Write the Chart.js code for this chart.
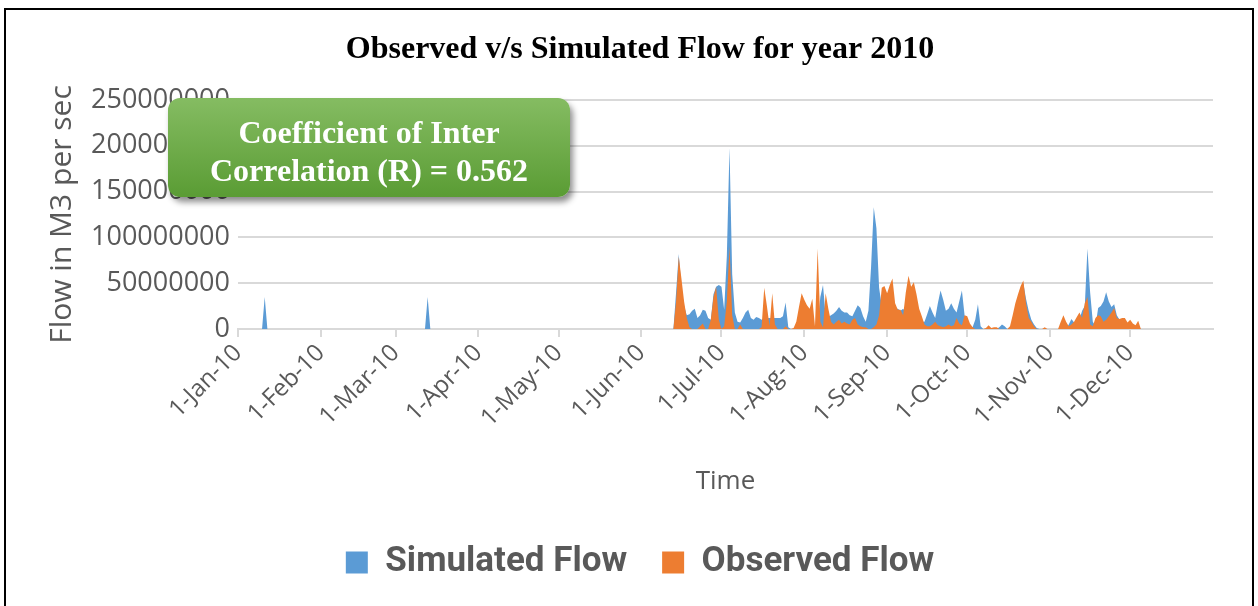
<!DOCTYPE html>
<html>
<head>
<meta charset="utf-8">
<script src="https://cdn.jsdelivr.net/npm/chart.js@4.4.1/dist/chart.umd.min.js"></script>
<style>
  html, body { margin: 0; padding: 0; background: #fff; }
  #wrap { position: relative; width: 1258px; height: 606px; overflow: hidden; }
  #chartBox { position: absolute; left: 0; top: 0; width: 1258px; height: 606px; }
  #frame { position: absolute; left: 4px; top: 8px; width: 1246px; height: 640px; border: 2px solid #000; pointer-events: none; }
  #note {
    position: absolute; left: 168px; top: 98px; width: 402px; height: 99px; box-sizing: border-box;
    border-radius: 12px; padding-top: 15px;
    background: linear-gradient(#85bc62, #5a9c34);
    box-shadow: 3px 5px 6px rgba(0, 0, 0, 0.45);
    color: #fff; font: bold 32px 'Liberation Serif', 'Times New Roman', serif;
    line-height: 38px; text-align: center;
  }
</style>
</head>
<body>
<div id="wrap">
  <div id="chartBox"><canvas id="flowChart"></canvas></div>
  <div id="note">Coefficient of Inter<br>Correlation (R) = 0.562</div>
  <div id="frame"></div>
</div>
<script>
// month tick labels shown on the x axis
const tickLabels = ['1-Jan-10', '1-Feb-10', '1-Mar-10', '1-Apr-10', '1-May-10', '1-Jun-10',
                    '1-Jul-10', '1-Aug-10', '1-Sep-10', '1-Oct-10', '1-Nov-10', '1-Dec-10'];
const monthNames = ['Jan', 'Feb', 'Mar', 'Apr', 'May', 'Jun', 'Jul', 'Aug', 'Sep', 'Oct', 'Nov', 'Dec'];

// daily flow, in millions of M3 per sec (one line per month)
const simulatedFlow = [
  0,0,0,0,0,0,0,0,0,0,35,0,0,0,0,0,0,0,0,0,0,0,0,0,0,0,0,0,0,0,0,
  0,0,0,0,0,0,0,0,0,0,0,0,0,0,0,0,0,0,0,0,0,0,0,0,0,0,0,0,
  0,0,0,0,0,0,0,0,0,0,0,0,35,0,0,0,0,0,0,0,0,0,0,0,0,0,0,0,0,0,0,
  0,0,0,0,0,0,0,0,0,0,0,0,0,0,0,0,0,0,0,0,0,0,0,0,0,0,0,0,0,0,
  0,0,0,0,0,0,0,0,0,0,0,0,0,0,0,0,0,0,0,0,0,0,0,0,0,0,0,0,0,0,0,
  0,0,0,0,0,0,0,0,0,0,0,0,0,40,82,45,25,15,16,20,22,12,15,21,20,12,10,38,46,48,
  46,21,80,198,60,18,8,7,12,18,21,12,10,13,12,10,12,12,12,12,12,12,12,14,29,2,0,0,2,3,3,
  3,3,2,3,2,3,35,48,14,13,15,17,20,24,20,18,18,15,14,20,26,23,14,8,20,68,133,110,45,25,22,
  20,20,20,22,22,20,22,18,15,15,15,12,10,8,8,16,25,18,12,28,42,32,20,22,28,22,18,30,42,15,
  6,3,2,10,27,3,0,0,0,0,0,0,2,5,3,0,0,10,22,35,45,50,33,20,10,5,1,0,0,0,0,
  0,0,0,0,0,0,0,5,11,7,8,10,20,25,88,40,8,3,23,25,30,40,30,24,27,15,10,10,8,5,
  6,3,2,2,0,0,0,0,0,0,0,0,0,0,0,0,0,0,0,0,0,0,0,0,0,0,0,0,0,0,0
];
const observedFlow = [
  0,0,0,0,0,0,0,0,0,0,0,0,0,0,0,0,0,0,0,0,0,0,0,0,0,0,0,0,0,0,0,
  0,0,0,0,0,0,0,0,0,0,0,0,0,0,0,0,0,0,0,0,0,0,0,0,0,0,0,0,
  0,0,0,0,0,0,0,0,0,0,0,0,0,0,0,0,0,0,0,0,0,0,0,0,0,0,0,0,0,0,0,
  0,0,0,0,0,0,0,0,0,0,0,0,0,0,0,0,0,0,0,0,0,0,0,0,0,0,0,0,0,0,
  0,0,0,0,0,0,0,0,0,0,0,0,0,0,0,0,0,0,0,0,0,0,0,0,0,0,0,0,0,0,0,
  0,0,0,0,0,0,0,0,0,0,0,0,0,30,79,55,30,12,2,0,0,0,3,6,0,0,10,35,46,10,
  0,3,30,90,15,0,0,5,0,0,0,0,0,0,0,2,45,25,3,39,5,0,0,0,3,0,0,1,8,24,39,
  32,26,22,33,3,88,8,2,39,22,8,5,8,10,6,8,6,5,10,12,5,3,2,2,0,0,2,5,15,45,47,
  39,48,55,28,21,21,15,40,58,46,51,38,22,14,5,3,3,5,8,4,3,2,3,5,3,4,12,6,4,15,
  14,6,2,0,0,0,0,1,4,1,2,2,0,0,0,0,3,15,28,38,47,53,28,12,8,3,0,0,0,2,0,
  0,0,0,0,8,15,8,3,5,8,13,18,12,28,35,5,3,12,15,14,8,10,14,18,23,12,11,12,12,7,
  10,6,4,9,0,0,0,0,0,0,0,0,0,0,0,0,0,0,0,0,0,0,0,0,0,0,0,0,0,0,0
];

// one category per day, 1-Jan-10 .. 1-Jan-11
const categories = [];
for (let d = new Date(2010, 0, 1); d <= new Date(2011, 0, 1); d.setDate(d.getDate() + 1)) {
    categories.push(d.getDate() + '-' + monthNames[d.getMonth()] + '-' + String(d.getFullYear()).slice(2));
}
const tickIndexes = tickLabels.map(l => categories.indexOf(l));

const grey = '#595959';
const gridGrey = '#d9d9d9';
const axisFont = "'Open Sans', sans-serif";

let chart;

function initializeChart() {
    const ctx = document.getElementById('flowChart').getContext('2d');
    if (!chart) {
        chart = new Chart(ctx, {
            type: 'line',
            data: {
                labels: categories,
                datasets: [
                    {
                        label: 'Simulated Flow',
                        data: simulatedFlow.map(v => v * 1000000),
                        borderColor: '#5B9BD5',
                        backgroundColor: '#5B9BD5',
                        borderWidth: 0,
                        pointRadius: 0,
                        fill: 'origin',
                        order: 1,
                    },
                    {
                        label: 'Observed Flow',
                        data: observedFlow.map(v => v * 1000000),
                        borderColor: '#ED7D31',
                        backgroundColor: '#ED7D31',
                        borderWidth: 0,
                        pointRadius: 0,
                        fill: 'origin',
                        order: 0,
                    },
                ]
            },
            options: {
                responsive: true,
                maintainAspectRatio: false,
                animation: false,
                layout: {
                    padding: {left: 67, right: 45, top: 10, bottom: 16}
                },
                plugins: {
                    title: {
                        display: true,
                        text: 'Observed v/s Simulated Flow for year 2010',
                        color: '#000',
                        font: {family: "'Liberation Serif', 'Times New Roman', serif", size: 32, weight: 'bold'},
                        padding: {top: 20.8, bottom: 30.8}
                    },
                    legend: {
                        position: 'bottom',
                        labels: {
                            color: grey,
                            boxWidth: 22,
                            boxHeight: 22,
                            padding: 35,
                            font: {family: "'Roboto', sans-serif", size: 35, weight: 'bold'},
                            sort: (a, b) => a.datasetIndex - b.datasetIndex
                        }
                    },
                    tooltip: {enabled: false}
                },
                scales: {
                    x: {
                        afterBuildTicks: axis => {
                            axis.ticks = tickIndexes.map(i => ({value: i}));
                        },
                        afterFit: axis => { axis.height = 181; },
                        grid: {
                            drawOnChartArea: false,
                            drawTicks: true,
                            tickLength: 8,
                            color: gridGrey,
                            lineWidth: 2
                        },
                        border: {display: true, color: gridGrey, width: 2},
                        ticks: {
                            autoSkip: false,
                            maxRotation: 45,
                            minRotation: 45,
                            color: grey,
                            padding: 2,
                            font: {family: axisFont, size: 24}
                        },
                        title: {
                            display: true,
                            text: 'Time',
                            color: grey,
                            font: {family: axisFont, size: 26},
                            padding: {top: 0, bottom: 12.4}
                        }
                    },
                    y: {
                        min: 0,
                        max: 250000000,
                        afterFit: axis => { axis.width = 171; },
                        grid: {color: gridGrey, lineWidth: 2, drawTicks: false},
                        border: {display: false},
                        ticks: {
                            stepSize: 50000000,
                            color: grey,
                            padding: 8,
                            font: {family: axisFont, size: 27},
                            callback: value => String(value)
                        },
                        title: {
                            display: true,
                            text: 'Flow in M3 per sec',
                            color: grey,
                            font: {family: axisFont, size: 30},
                            padding: {top: -23, bottom: 0}
                        }
                    }
                }
            }
        });
    }
}

window.onload = initializeChart;
</script>
</body>
</html>
